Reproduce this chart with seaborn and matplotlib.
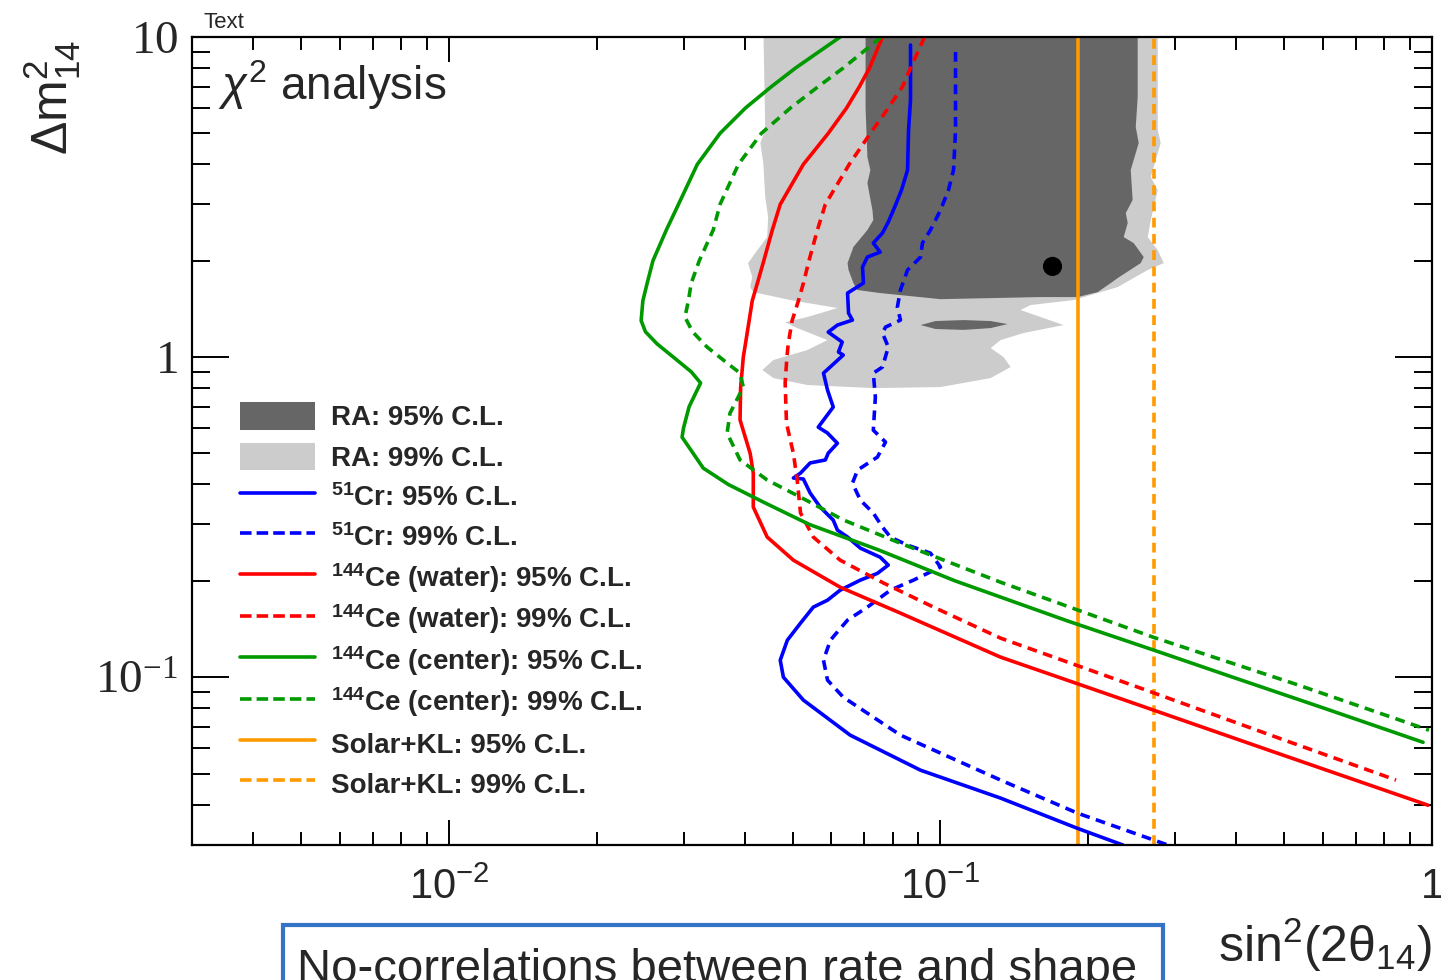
import numpy as np
import matplotlib
matplotlib.use("Agg")
import matplotlib.pyplot as plt
import seaborn as sns
from matplotlib.patches import Patch, Rectangle
from matplotlib.lines import Line2D
from matplotlib.legend_handler import HandlerPatch
from matplotlib.ticker import LogLocator, NullFormatter
from matplotlib.font_manager import FontProperties

# ---------------------------------------------------------------- data
# Reactor anomaly allowed regions (closed contours, sin^2 vs dm^2)
ra99_s2 = [0.0436, 0.0440, 0.0430, 0.0436, 0.0440, 0.0446, 0.0444, 0.0424, 0.0406, 0.0414,
           0.0410, 0.0416, 0.0495, 0.0617, 0.0536, 0.0483, 0.0511, 0.0589, 0.0536, 0.0457,
           0.0434, 0.0457, 0.0536, 0.0730, 0.1000, 0.1265, 0.1389, 0.1344, 0.1265, 0.1325,
           0.1476, 0.1780, 0.1598, 0.1455, 0.1525, 0.1866, 0.2294, 0.2640, 0.2846, 0.2767,
           0.2640, 0.2678, 0.2767, 0.2678, 0.2806, 0.2767, 0.2767]
ra99_dm2 = [11, 5.12, 4.665, 4.037, 3.162, 2.738, 2.371, 2.158, 1.966, 1.778,
            1.655, 1.596, 1.507, 1.423, 1.334, 1.286, 1.232, 1.130, 1.052, 0.979,
            0.911, 0.860, 0.818, 0.800, 0.806, 0.860, 0.931, 1.0, 1.067, 1.130,
            1.189, 1.259, 1.334, 1.403, 1.454, 1.507, 1.655, 1.871, 1.966, 2.158,
            2.371, 2.680, 3.325, 3.652, 4.665, 5.12, 11]

ra95_s2 = [0.0704, 0.0704, 0.0710, 0.0720, 0.0710, 0.0727, 0.0730, 0.0710, 0.0665, 0.0647,
           0.0650, 0.0665, 0.0678, 0.0754, 0.1000, 0.1598, 0.1901, 0.2088, 0.2220, 0.2294,
           0.2555, 0.2591, 0.2472, 0.2359, 0.2404, 0.2382, 0.2460, 0.2438, 0.2531, 0.2496,
           0.2519, 0.2519]
ra95_dm2 = [11, 6.0, 4.217, 3.84, 3.497, 2.877, 2.680, 2.494, 2.208, 1.966,
            1.871, 1.703, 1.620, 1.585, 1.517, 1.540, 1.540, 1.596, 1.703, 1.766,
            1.966, 2.054, 2.271, 2.371, 2.624, 2.818, 3.096, 3.84, 4.665, 5.233,
            6.494, 11]

ra95_island_s2 = [0.0911, 0.0977, 0.1114, 0.1265, 0.1369, 0.1265, 0.1114, 0.0977]
ra95_island_dm2 = [1.259, 1.296, 1.305, 1.296, 1.268, 1.232, 1.216, 1.224]

best_fit_s2 = [0.169]
best_fit_dm2 = [1.92]

# 51Cr source sensitivity
cr95_s2 = [0.0869, 0.0869, 0.0861, 0.0857, 0.0833, 0.0810, 0.0783, 0.0762, 0.0730, 0.0754,
           0.0710, 0.0694, 0.0697, 0.0647, 0.0650, 0.0662, 0.0617, 0.0591, 0.0631, 0.0620,
           0.0634, 0.0578, 0.0589, 0.0605, 0.0564, 0.0589, 0.0617, 0.0591, 0.0583, 0.0543,
           0.0519, 0.0502, 0.0526, 0.0543, 0.0569, 0.0605, 0.0617, 0.0647, 0.0687, 0.0754,
           0.0783, 0.0744, 0.0687, 0.0625, 0.0589, 0.0551, 0.0519, 0.0488, 0.0472, 0.0479,
           0.0526, 0.0655, 0.0911, 0.1325, 0.190, 0.235]
cr95_dm2 = [9.44, 6.36, 5.12, 3.84, 3.325, 2.985, 2.641, 2.441, 2.271, 2.128,
            2.054, 1.911, 1.703, 1.585, 1.372, 1.305, 1.259, 1.197, 1.114, 1.037,
            1.0145, 0.891, 0.789, 0.698, 0.604, 0.579, 0.538, 0.501, 0.477, 0.467,
            0.434, 0.419, 0.416, 0.376, 0.340, 0.3095, 0.288, 0.274, 0.253, 0.237,
            0.224, 0.211, 0.201, 0.187, 0.174, 0.1655, 0.1475, 0.1305, 0.113, 0.100,
            0.0848, 0.0659, 0.0512, 0.0419, 0.0337, 0.0299]

cr99_s2 = [0.1073, 0.1073, 0.1063, 0.1038, 0.1000, 0.0954, 0.0919, 0.0911, 0.0857, 0.0829,
           0.0817, 0.0829, 0.0773, 0.0762, 0.0783, 0.0762, 0.0730, 0.0737, 0.0730, 0.0773,
           0.0744, 0.0678, 0.0662, 0.0687, 0.0730, 0.0762, 0.0791, 0.0857, 0.0954, 0.1000,
           0.0881, 0.0791, 0.0710, 0.0647, 0.0597, 0.0578, 0.0589, 0.0634, 0.0829, 0.1325,
           0.190, 0.290]
cr99_dm2 = [8.98, 5.12, 3.84, 3.325, 2.877, 2.494, 2.271, 2.054, 1.871, 1.620,
            1.433, 1.305, 1.241, 1.189, 1.075, 0.931, 0.891, 0.750, 0.591, 0.5425,
            0.487, 0.4436, 0.4037, 0.3573, 0.3255, 0.2943, 0.2738, 0.2585, 0.2441, 0.2208,
            0.2010, 0.1870, 0.1655, 0.1508, 0.1305, 0.1130, 0.0979, 0.0866, 0.0659, 0.0477,
            0.0376, 0.0299]

# 144Ce source in the water tank
cew95_s2 = [0.0762, 0.0717, 0.0684, 0.0644, 0.0591, 0.0526, 0.0472, 0.0455, 0.0437, 0.0424,
            0.0414, 0.0408, 0.0401, 0.0397, 0.0392, 0.0391, 0.0410, 0.0416, 0.0416, 0.0444,
            0.0502, 0.0625, 0.0829, 0.1325, 0.237, 0.466, 0.982]
cew95_dm2 = [10, 8, 7, 6, 5, 4, 3, 2.5, 2, 1.7,
             1.5, 1.3, 1.1, 1.0, 0.8, 0.636, 0.5, 0.434, 0.340, 0.274,
             0.232, 0.191, 0.1585, 0.1155, 0.0848, 0.0591, 0.0398]

cew99_s2 = [0.0928, 0.0869, 0.0837, 0.0783, 0.0720, 0.0652, 0.0583, 0.0562, 0.0540, 0.0526,
            0.0514, 0.0499, 0.0490, 0.0487, 0.0483, 0.0486, 0.0502, 0.0511, 0.0519, 0.0551,
            0.0625, 0.0765, 0.0968, 0.1325, 0.262, 0.502, 0.845]
cew99_dm2 = [10, 8, 7, 6, 5, 4, 3, 2.5, 2, 1.7,
             1.5, 1.3, 1.1, 1.0, 0.830, 0.622, 0.5, 0.413, 0.326, 0.274,
             0.232, 0.197, 0.1655, 0.1324, 0.0911, 0.0635, 0.0477]

# 144Ce source at the detector center
cec95_s2 = [0.0625, 0.0507, 0.0453, 0.0401, 0.0356, 0.0320, 0.0293, 0.0277, 0.0260, 0.0253,
            0.0248, 0.0246, 0.0251, 0.0265, 0.0286, 0.0311, 0.0325, 0.0308, 0.0300, 0.0298,
            0.0314, 0.0329, 0.0370, 0.0440, 0.0541, 0.0747, 0.107, 0.181, 0.278, 0.393,
            0.603, 0.959]
cec95_dm2 = [10, 8, 7, 6, 5, 4, 3, 2.5, 2, 1.7,
             1.5, 1.3, 1.2, 1.1, 1.0, 0.9, 0.83, 0.7, 0.6, 0.562,
             0.5, 0.45, 0.4, 0.35, 0.3, 0.25, 0.2, 0.15, 0.12, 0.1,
             0.08, 0.0626]

cec99_s2 = [0.0758, 0.0634, 0.0564, 0.0495, 0.0432, 0.0388, 0.0356, 0.0345, 0.0323, 0.0311,
            0.0307, 0.0302, 0.0313, 0.0335, 0.0368, 0.0391, 0.0397, 0.0373, 0.0368, 0.0391,
            0.0444, 0.0519, 0.0634, 0.0829, 0.1325, 0.272, 0.528, 0.986]
cec99_dm2 = [10, 8, 7, 6, 5, 4, 3, 2.5, 2, 1.7,
             1.5, 1.334, 1.2, 1.075, 0.958, 0.891, 0.806, 0.668, 0.579, 0.477,
             0.413, 0.365, 0.310, 0.262, 0.198, 0.133, 0.0951, 0.0683]

# Solar + KamLAND limits
solar95_s2 = 0.190
solar99_s2 = 0.272

legend_labels = [
    "RA: 95% C.L.",
    "RA: 99% C.L.",
    r"$^{\mathbf{51}}$Cr: 95% C.L.",
    r"$^{\mathbf{51}}$Cr: 99% C.L.",
    r"$^{\mathbf{144}}$Ce (water): 95% C.L.",
    r"$^{\mathbf{144}}$Ce (water): 99% C.L.",
    r"$^{\mathbf{144}}$Ce (center): 95% C.L.",
    r"$^{\mathbf{144}}$Ce (center): 99% C.L.",
    "Solar+KL: 95% C.L.",
    "Solar+KL: 99% C.L.",
]

x_tick_values = [0.01, 0.1, 1.0]
x_tick_labels = [r"$10^{-2}$", r"$10^{-1}$", r"$1$"]
y_tick_values = [0.1, 1.0, 10.0]
y_tick_labels = [r"$\mathregular{10^{-1}}$", r"$\mathregular{1}$", r"$\mathregular{10}$"]

# ---------------------------------------------------------------- style
sns.set_theme(style="white")
plt.rcParams.update({
    "font.family": ["Liberation Sans", "DejaVu Sans"],
    "mathtext.fontset": "custom",
    "mathtext.rm": "Liberation Sans",
    "mathtext.it": "Liberation Sans:italic",
    "mathtext.bf": "Liberation Sans:bold",
    "mathtext.sf": "Liberation Sans",
    "axes.edgecolor": "black",
    "axes.linewidth": 1.6,
    "xtick.bottom": True,
    "ytick.left": True,
})

C_DARK = "#666666"
C_LIGHT = "#cccccc"
C_BLUE = "#0000ff"
C_RED = "#ff0000"
C_GREEN = "#009900"
C_ORANGE = "#ff9a00"
LW = 2.6
DASH = (0, (2.7, 1.8))
LEG_DASH = (0, (3.2, 1.4))

fig = plt.figure(figsize=(14.41, 9.80), dpi=100)
ax = fig.add_axes([192 / 1441, 1 - 845 / 980, 1240 / 1441, 808 / 980])
ax.set_xscale("log")
ax.set_yscale("log")
ax.set_xlim(0.003, 1.0)
ax.set_ylim(0.0299, 10.0)

# allowed regions
ax.fill(ra99_s2, ra99_dm2, color=C_LIGHT, lw=0, zorder=1)
ax.fill(ra95_s2, ra95_dm2, color=C_DARK, lw=0, zorder=1.2)
ax.fill(ra95_island_s2, ra95_island_dm2, color=C_DARK, lw=0, zorder=1.2)

# solar + KamLAND limits
ax.axvline(solar95_s2, color=C_ORANGE, lw=LW, zorder=2.5)
ax.axvline(solar99_s2, color=C_ORANGE, lw=LW, linestyle=DASH, zorder=2.5)

curves = [
    (cr95_s2, cr95_dm2, C_BLUE, "-"),
    (cr99_s2, cr99_dm2, C_BLUE, DASH),
    (cew95_s2, cew95_dm2, C_RED, "-"),
    (cew99_s2, cew99_dm2, C_RED, DASH),
    (cec95_s2, cec95_dm2, C_GREEN, "-"),
    (cec99_s2, cec99_dm2, C_GREEN, DASH),
]
for xs, ys, col, ls in curves:
    sns.lineplot(x=xs, y=ys, sort=False, estimator=None, ax=ax, color=col,
                 linewidth=LW, linestyle=ls, legend=False, zorder=3)

sns.scatterplot(x=best_fit_s2, y=best_fit_dm2, ax=ax, color="black", s=190,
                edgecolor="none", zorder=4, legend=False)

# axes, ticks
ax.set_xlabel("")
ax.set_ylabel("")
ax.set_xticks(x_tick_values)
ax.set_xticklabels(x_tick_labels, fontsize=30, fontfamily="Liberation Sans")
ax.set_yticks(y_tick_values)
ax.set_yticklabels(y_tick_labels, fontsize=34, fontfamily="Liberation Serif")
ax.xaxis.set_minor_locator(LogLocator(base=10, subs=np.arange(2, 10), numticks=30))
ax.yaxis.set_minor_locator(LogLocator(base=10, subs=np.arange(2, 10), numticks=30))
ax.xaxis.set_minor_formatter(NullFormatter())
ax.yaxis.set_minor_formatter(NullFormatter())
ax.tick_params(which="both", direction="in", bottom=True, left=True, top=True, right=True,
               color="black", width=1.4)
ax.tick_params(axis="x", which="major", length=18, pad=16)
ax.tick_params(axis="x", which="minor", length=9.4)
ax.tick_params(axis="y", which="major", length=26.6, pad=10)
ax.tick_params(axis="y", which="minor", length=13)
ax.grid(False)
for sp in ax.spines.values():
    sp.set_linewidth(1.6)
    sp.set_color("black")
    sp.set_zorder(5)


# legend: filled boxes a little shorter than the row height
def box_patch(legend, orig_handle, xdescent, ydescent, width, height, fontsize):
    h = 0.85 * height
    return Rectangle((-xdescent, -ydescent + (height - h) / 2), width, h)


handles = [
    Patch(facecolor=C_DARK, edgecolor="none"),
    Patch(facecolor=C_LIGHT, edgecolor="none"),
    Line2D([], [], color=C_BLUE, lw=LW),
    Line2D([], [], color=C_BLUE, lw=LW, linestyle=LEG_DASH),
    Line2D([], [], color=C_RED, lw=LW),
    Line2D([], [], color=C_RED, lw=LW, linestyle=LEG_DASH),
    Line2D([], [], color=C_GREEN, lw=LW),
    Line2D([], [], color=C_GREEN, lw=LW, linestyle=LEG_DASH),
    Line2D([], [], color=C_ORANGE, lw=LW),
    Line2D([], [], color=C_ORANGE, lw=LW, linestyle=LEG_DASH),
]
ax.legend(handles, legend_labels, loc="upper left",
          bbox_to_anchor=((240 - 192) / 1240, (845 - 400) / 808),
          frameon=False, borderaxespad=0, borderpad=0,
          handlelength=2.7, handleheight=1.42, handletextpad=0.58, labelspacing=0.28,
          handler_map={Patch: HandlerPatch(patch_func=box_patch)},
          prop=FontProperties(family="Liberation Sans", weight="bold", size=20))

# annotations
ax.text((218 - 192) / 1240, (845 - 100) / 808, r"$\chi^{2}$ analysis",
        transform=ax.transAxes, fontsize=33, va="baseline", ha="left")
fig.text(203 / 1441, 1 - 28 / 980, "Text", fontsize=16, va="baseline", ha="left")
fig.text(52 / 1441, 1 - 97 / 980, r"Δm$^{2}_{14}$", rotation=90, fontsize=36,
         ha="center", va="center")
fig.text(1432 / 1441, 1 - 962 / 980, r"sin$^{2}$(2θ$_{14}$)", fontsize=36,
         ha="right", va="baseline")

# framed caption under the plot
fig.add_artist(Rectangle((283 / 1441, -0.05), 880 / 1441, 0.05 + (1 - 925 / 980),
                         transform=fig.transFigure, fill=False,
                         edgecolor="#3473c5", lw=3, clip_on=False))
fig.text(297 / 1441, 1 - 982 / 980, "No-correlations between rate and shape",
         fontsize=34, va="baseline", ha="left")

fig.savefig("out.png", dpi=100)
